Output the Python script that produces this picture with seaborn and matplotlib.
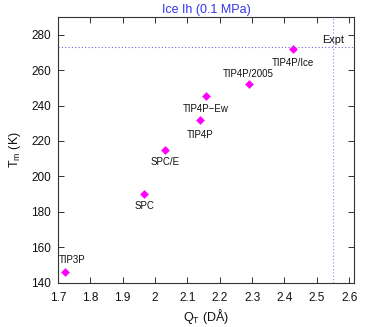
import pandas as pd
import matplotlib
matplotlib.use("Agg")
import matplotlib.pyplot as plt
import seaborn as sns

# ////////////////DATA

models = ["TIP3P", "SPC", "SPC/E", "TIP4P", "TIP4P\u2212Ew", "TIP4P/2005", "TIP4P/Ice"]
qt = [1.722, 1.966, 2.031, 2.140, 2.158, 2.289, 2.425]
tm = [146, 190, 215, 232, 245.5, 252, 272]
expt_qt = 2.55
expt_tm = 273.15

df = pd.DataFrame({"model": models, "QT": qt, "Tm": tm})

# ////////////////PLOT

sns.set_style("ticks")
plt.rcParams["font.family"] = ["Liberation Sans", "DejaVu Sans"]

fig = plt.figure(figsize=(3.74, 3.27), dpi=100)
ax = fig.add_axes([0.155, 0.1355, 0.7915, 0.8125])

ax.axhline(expt_tm, color="#6666cc", ls=(0, (1, 2)), lw=0.8)
ax.axvline(expt_qt, color="#8888ee", ls=(0, (1, 2)), lw=0.8)

sns.scatterplot(data=df, x="QT", y="Tm", marker="D", color="magenta",
                s=20, edgecolor="magenta", linewidth=0, ax=ax)

# label offsets in points (dx, dy)
offsets = {
    "TIP3P": (4.7, 8.4),
    "SPC": (0, -8.2),
    "SPC/E": (0, -8.6),
    "TIP4P": (0, -10.8),
    "TIP4P\u2212Ew": (0, -9.4),
    "TIP4P/2005": (0, 7.7),
    "TIP4P/Ice": (0, -10),
}
for m, x, y in zip(models, qt, tm):
    dx, dy = offsets[m]
    ax.annotate(m, (x, y), xytext=(dx, dy), textcoords="offset points",
                ha="center", va="center", fontsize=7, color="#111111")

ax.annotate("Expt", (expt_qt, expt_tm), xytext=(0, 4.6), textcoords="offset points",
            ha="center", va="center", fontsize=7.8, color="#111111")

ax.set_xlim(1.7, 2.615)
ax.set_ylim(140, 290)
ax.set_xticks([1.7, 1.8, 1.9, 2.0, 2.1, 2.2, 2.3, 2.4, 2.5, 2.6])
ax.set_xticklabels(["1.7", "1.8", "1.9", "2", "2.1", "2.2", "2.3", "2.4", "2.5", "2.6"])
ax.set_yticks([140, 160, 180, 200, 220, 240, 260, 280])
ax.tick_params(direction="in", top=True, right=True, labelsize=8.5, length=4,
               width=0.6, colors="#111111")
ax.tick_params(axis="x", pad=7)
ax.tick_params(axis="y", pad=5)
for sp in ax.spines.values():
    sp.set_linewidth(0.8)
    sp.set_color("#333333")

ax.set_xlabel("Q$_\\mathregular{T}$ (D\u00c5)", fontsize=9, labelpad=2, color="#111111")
ax.set_ylabel("T$_\\mathregular{m}$ (K)", fontsize=9, labelpad=6, color="#111111")
ax.set_title("Ice Ih (0.1 MPa)", color="#3333ee", fontsize=9, pad=3)

fig.savefig("out.png", dpi=100)
